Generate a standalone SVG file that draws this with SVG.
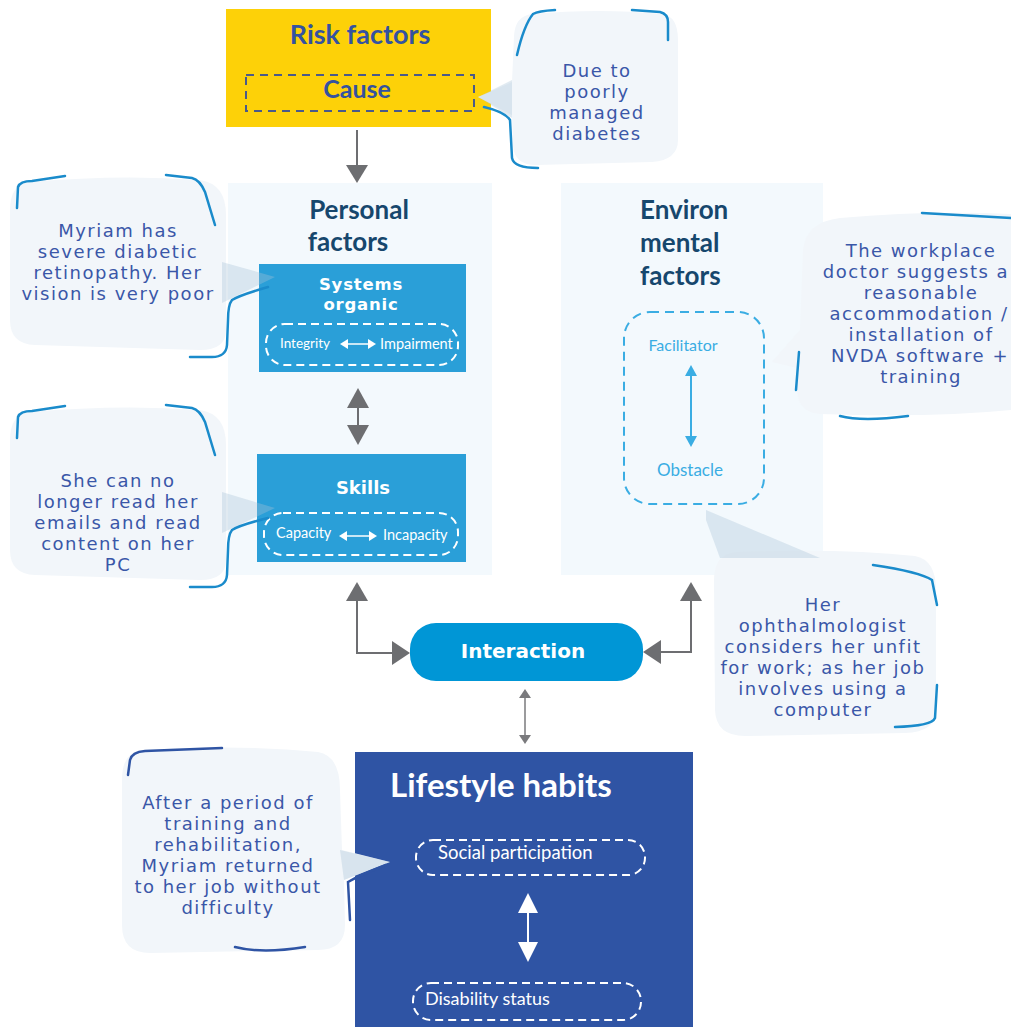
<svg xmlns="http://www.w3.org/2000/svg" width="1011" height="1027" viewBox="0 0 1011 1027">
<style>
.ct{font-family:"DejaVu Sans","Open Sans",sans-serif;font-size:18px;fill:#3A57A8;text-anchor:middle;letter-spacing:1.5px}
.h{font-family:Lato,"Open Sans",sans-serif;font-weight:bold}
.hd{font-family:"DejaVu Sans","Open Sans",sans-serif;font-weight:bold;fill:#fff;text-anchor:middle}
.w{font-family:Lato,"Open Sans",sans-serif;fill:#fff}
.br{fill:none;stroke:#1A8BCB;stroke-width:2.5;stroke-linecap:round}
.bub{fill:#F2F6FA}
.ptr{fill:#A9C3D6;opacity:0.35}
.g{fill:#6D6E71}
.gl{stroke:#6D6E71;fill:none}
</style>
<rect width="1011" height="1027" fill="#fff"/>
<g id="personal-panel">
<rect x="228" y="183" width="264" height="392" fill="#F3F9FD"/>
<text class="h" x="359" y="219" font-size="26" fill="#16476D" text-anchor="middle">Personal</text>
<text class="h" x="348" y="251" font-size="26" fill="#16476D" text-anchor="middle">factors</text>
</g>
<g id="env-panel">
<rect x="561" y="183" width="262" height="392" fill="#F3F9FD"/>
<text class="h" x="640" y="219" font-size="26" fill="#16476D">Environ</text>
<text class="h" x="640" y="252" font-size="26" fill="#16476D">mental</text>
<text class="h" x="640" y="285" font-size="26" fill="#16476D">factors</text>
<rect x="624" y="312" width="140" height="192" rx="26" fill="none" stroke="#3AADE3" stroke-width="2" stroke-dasharray="9 6"/>
<text x="683" y="351" font-family="Lato,'Open Sans',sans-serif" font-size="16" fill="#3AADE3" text-anchor="middle">Facilitator</text>
<text x="690" y="476" font-family="Lato,'Open Sans',sans-serif" font-size="17" fill="#3AADE3" text-anchor="middle">Obstacle</text>
<line x1="691" y1="372" x2="691" y2="440" stroke="#3AADE3" stroke-width="2"/>
<polygon points="685,376 697,376 691,365" fill="#3AADE3"/>
<polygon points="685,436 697,436 691,447" fill="#3AADE3"/>
</g>
<g id="risk">
<rect x="226" y="9" width="265" height="118" fill="#FDD108"/>
<text class="h" x="360" y="44" font-size="27" fill="#3452A0" text-anchor="middle">Risk factors</text>
<rect x="246" y="75" width="228" height="36" fill="none" stroke="#4A5A8A" stroke-width="2" stroke-dasharray="8 6"/>
<text class="h" x="357" y="98" font-size="25" fill="#3452A0" text-anchor="middle">Cause</text>
</g>
<g id="systems">
<rect x="259" y="264" width="207" height="108" fill="#2A9FD8"/>
<text class="hd" x="361" y="290" font-size="16.5" letter-spacing="0.8">Systems</text>
<text class="hd" x="361" y="309.5" font-size="16.5" letter-spacing="0.8">organic</text>
<rect x="266" y="324" width="192" height="41" rx="19" fill="none" stroke="#fff" stroke-width="2" stroke-dasharray="8 5"/>
<text class="w" x="280" y="348" font-size="13.5">Integrity</text>
<text class="w" x="380" y="349" font-size="14.5">Impairment</text>
<line x1="346" y1="344" x2="370" y2="344" stroke="#fff" stroke-width="1.5"/>
<polygon points="340,344 348,339 348,349" fill="#fff"/>
<polygon points="376,344 368,339 368,349" fill="#fff"/>
</g>
<g id="skills">
<rect x="257" y="454" width="209" height="108" fill="#2A9FD8"/>
<text class="hd" x="363" y="494" font-size="18">Skills</text>
<rect x="264" y="513" width="194" height="42" rx="19" fill="none" stroke="#fff" stroke-width="2" stroke-dasharray="8 5"/>
<text class="w" x="276" y="538" font-size="14.5">Capacity</text>
<text class="w" x="383" y="540" font-size="14.5">Incapacity</text>
<line x1="345" y1="536" x2="371" y2="536" stroke="#fff" stroke-width="1.5"/>
<polygon points="339,536 347,531 347,541" fill="#fff"/>
<polygon points="377,536 369,531 369,541" fill="#fff"/>
</g>
<g id="interaction">
<rect x="410" y="623" width="233" height="58" rx="26" fill="#0096D6"/>
<text class="hd" x="523" y="658" font-size="20">Interaction</text>
</g>
<g id="lifestyle">
<rect x="355" y="752" width="338" height="275" fill="#2F54A4"/>
<text class="w h" x="390" y="797" font-size="33">Lifestyle habits</text>
<rect x="416" y="840" width="229" height="35" rx="17" fill="none" stroke="#fff" stroke-width="2" stroke-dasharray="8 5"/>
<text class="w" x="438" y="859" font-size="18.5">Social participation</text>
<rect x="413" y="983" width="228" height="37" rx="18" fill="none" stroke="#fff" stroke-width="2" stroke-dasharray="8 5"/>
<text class="w" x="425" y="1005" font-size="18">Disability status</text>
<line x1="528" y1="905" x2="528" y2="950" stroke="#fff" stroke-width="2"/>
<polygon points="518,913 538,913 528,893" fill="#fff"/>
<polygon points="518,942 538,942 528,962" fill="#fff"/>
</g>
<g id="connectors">
<line class="gl" x1="357" y1="130" x2="357" y2="166" stroke-width="2"/>
<polygon class="g" points="346,165 368,165 357,183"/>
<line class="gl" x1="358" y1="400" x2="358" y2="432" stroke-width="2"/>
<polygon class="g" points="347,408 369,408 358,388"/>
<polygon class="g" points="347,425 369,425 358,445"/>
<polyline class="gl" points="357,598 357,653 395,653" stroke-width="2"/>
<polygon class="g" points="346,601 368,601 357,582"/>
<polygon class="g" points="392,641 392,665 410,653"/>
<polyline class="gl" points="691,598 691,652 660,652" stroke-width="2"/>
<polygon class="g" points="680,601 702,601 691,582"/>
<polygon class="g" points="661,640 661,664 643,652"/>
<line x1="525" y1="695" x2="525" y2="738" stroke="#7A7A7D" stroke-width="1.5"/>
<polygon points="519,698 531,698 525,689" fill="#7A7A7D"/>
<polygon points="519,735 531,735 525,744" fill="#7A7A7D"/>
</g>
<g id="callout-cause">
<path class="bub" d="M532 14 Q600 8 662 14 Q678 16 678 40 L678 140 Q678 160 652 162 L536 165 Q514 165 513 145 L512 115 L478 97 L512 82 L514 36 Q515 16 532 14 Z"/>
<path class="ptr" d="M512 80 L478 97 L512 118 Z"/>
<path class="br" d="M517 55 Q524 25 533 14 Q538 11 555 10"/>
<path class="br" d="M632 10 L660 12 Q668 14 668 22 L668 40"/>
<path class="br" d="M484 107 Q505 112 510 120 L512 158 Q514 168 538 168"/>
<text class="ct" x="597" y="77">Due to</text>
<text class="ct" x="597" y="98">poorly</text>
<text class="ct" x="597" y="119">managed</text>
<text class="ct" x="597" y="140">diabetes</text>
</g>
<g id="callout-myriam">
<path class="bub" d="M30 182 Q120 174 200 180 Q226 184 226 215 L226 330 Q226 350 200 350 L35 345 Q10 344 10 320 L10 210 Q10 184 30 182 Z"/>
<path class="ptr" d="M222 262 L275 277 L222 303 Z"/>
<path class="br" d="M17 208 L18 187 Q20 181 32 181 L65 176"/>
<path class="br" d="M166 175 L192 178 Q200 180 205 192 L215 225"/>
<path class="br" d="M268 287 Q240 295 232 300 Q228 305 228 320 L227 345 Q226 357 212 357 L190 357"/>
<text class="ct" x="118" y="237">Myriam has</text>
<text class="ct" x="118" y="258">severe diabetic</text>
<text class="ct" x="118" y="279">retinopathy.  Her</text>
<text class="ct" x="118" y="300">vision is very poor</text>
</g>
<g id="callout-skills">
<path class="bub" d="M30 412 Q120 404 200 410 Q226 414 226 445 L226 560 Q226 580 200 580 L35 575 Q10 574 10 550 L10 440 Q10 414 30 412 Z"/>
<path class="ptr" d="M222 492 L275 508 L222 533 Z"/>
<path class="br" d="M17 438 L18 417 Q20 411 32 411 L65 406"/>
<path class="br" d="M166 405 L192 408 Q200 410 205 422 L215 455"/>
<path class="br" d="M268 518 Q240 525 232 530 Q228 535 228 550 L227 575 Q226 587 212 587 L190 587"/>
<text class="ct" x="118" y="487">She can no</text>
<text class="ct" x="118" y="508">longer read her</text>
<text class="ct" x="118" y="529">emails and read</text>
<text class="ct" x="118" y="550">content on her</text>
<text class="ct" x="118" y="571">PC</text>
</g>
<g id="callout-workplace">
<path class="bub" d="M840 218 Q930 210 1011 214 L1011 410 Q930 418 820 414 Q798 412 797 390 L797 368 L772 362 L800 330 L803 250 Q806 222 840 218 Z"/>
<path class="br" d="M922 213 L1011 218"/>
<path class="br" d="M799 352 L796 390"/>
<path class="br" d="M840 416 Q862 422 908 416"/>
<text class="ct" x="921" y="257">The workplace</text>
<text class="ct" x="916" y="278" letter-spacing="0.8">doctor suggests a</text>
<text class="ct" x="921" y="299">reasonable</text>
<text class="ct" x="919" y="320" letter-spacing="1.2">accommodation /</text>
<text class="ct" x="921" y="341">installation of</text>
<text class="ct" x="920" y="362" letter-spacing="1.3">NVDA software +</text>
<text class="ct" x="921" y="383">training</text>
</g>
<g id="callout-ophthalmo">
<path class="bub" d="M738 552 Q840 548 915 556 Q936 560 936 590 L936 710 Q936 732 905 733 L745 736 Q716 736 715 710 L714 580 Q714 553 738 552 Z"/>
<path class="ptr" d="M706 510 L820 558 L720 558 L706 520 Z"/>
<path class="br" d="M873 565 Q920 572 932 580 L937 605"/>
<path class="br" d="M937 685 L935 718 Q932 726 895 727"/>
<text class="ct" x="823" y="611">Her</text>
<text class="ct" x="823" y="632">ophthalmologist</text>
<text class="ct" x="823" y="653">considers her unfit</text>
<text class="ct" x="823" y="674">for work; as her job</text>
<text class="ct" x="823" y="695">involves using a</text>
<text class="ct" x="823" y="716">computer</text>
</g>
<g id="callout-lifestyle">
<path class="bub" d="M142 750 Q240 744 318 752 Q340 756 340 790 L342 850 L390 862 L344 880 L345 925 Q345 950 318 950 L150 953 Q122 953 122 925 L122 780 Q122 752 142 750 Z"/>
<path class="ptr" d="M340 850 L390 862 L344 880 Z"/>
<path class="br" style="stroke:#2F54A4" d="M128 775 L130 760 Q132 752 145 751 L222 748"/>
<path class="br" style="stroke:#2F54A4" d="M235 947 Q262 954 305 947"/>
<path class="br" style="stroke:#2F54A4" d="M386 865 Q360 875 348 882 L350 920"/>
<text class="ct" x="228" y="809">After a period of</text>
<text class="ct" x="228" y="830">training and</text>
<text class="ct" x="228" y="851">rehabilitation,</text>
<text class="ct" x="228" y="872">Myriam returned</text>
<text class="ct" x="228" y="893">to her job without</text>
<text class="ct" x="228" y="914">difficulty</text>
</g>
</svg>
